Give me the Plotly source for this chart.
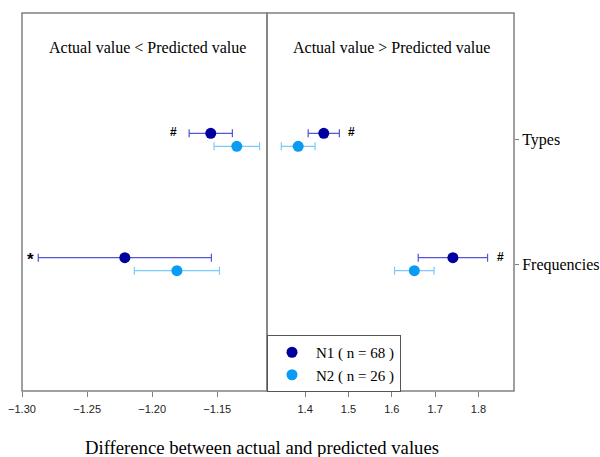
import plotly.graph_objects as go

# ---- data ----
categories = ["Frequencies", "Types"]
cat_pos = [1, 2]
n1_label = "N1 ( n = 68 )"
n2_label = "N2 ( n = 26 )"

# left panel (actual < predicted): values per category [Frequencies, Types]
n1_left_mean = [-1.221, -1.155]
n1_left_err = [0.0665, 0.0166]
n2_left_mean = [-1.181, -1.135]
n2_left_err = [0.0327, 0.0175]

# right panel (actual > predicted)
n1_right_mean = [1.741, 1.443]
n1_right_err = [0.080, 0.036]
n2_right_mean = [1.652, 1.384]
n2_right_err = [0.0456, 0.039]

# significance marks [Frequencies, Types]
n1_left_marks = ["*", "#"]
n1_right_marks = ["#", "#"]

left_ticks = [-1.30, -1.25, -1.20, -1.15]
right_ticks = [1.4, 1.5, 1.6, 1.7, 1.8]

# ---- styling ----
W, H = 600, 457
x_left, x_mid, x_right = 22, 267, 514
y_top, y_bot = 13, 391
off = 0.052
c1, c1e = "#00009E", "#5555D5"
c2, c2e = "#0A9BF5", "#7CCBFA"
serif = "Liberation Serif, Times New Roman, serif"
sans = "Liberation Sans, Arial, sans-serif"

fig = go.Figure()

def add(xs, errs, ys, col, ecol, name, xa, show):
    fig.add_trace(go.Scatter(
        x=xs, y=ys, mode="markers", name=name, xaxis=xa, yaxis="y",
        marker=dict(color=col, size=11),
        error_x=dict(type="data", array=errs, color=ecol, thickness=1.2, width=4),
        showlegend=show,
    ))

y1 = [p + off for p in cat_pos]
y2 = [p - off for p in cat_pos]
add(n1_left_mean, n1_left_err, y1, c1, c1e, n1_label, "x", True)
add(n2_left_mean, n2_left_err, y2, c2, c2e, n2_label, "x", True)
add(n1_right_mean, n1_right_err, y1, c1, c1e, n1_label, "x2", False)
add(n2_right_mean, n2_right_err, y2, c2, c2e, n2_label, "x2", False)

ann = []
for m, e, y, t in zip(n1_left_mean, n1_left_err, y1, n1_left_marks):
    ann.append(dict(x=m - e, y=y, xref="x", yref="y", text="<b>" + t + "</b>", showarrow=False,
                    xanchor="right", yanchor="middle",
                    xshift=-2 if t == "*" else -10, yshift=-2 if t == "*" else 1,
                    font=dict(family=sans, size=17 if t == "*" else 12, color="black")))
for m, e, y, t in zip(n1_right_mean, n1_right_err, y1, n1_right_marks):
    ann.append(dict(x=m + e, y=y, xref="x2", yref="y", text="<b>" + t + "</b>", showarrow=False,
                    xanchor="left", yanchor="middle", xshift=7, yshift=1,
                    font=dict(family=sans, size=12, color="black")))

ann.append(dict(x=0.514, y=1 - 47 / H, xref="x domain", yref="paper",
                xanchor="center", yanchor="middle",
                text="Actual value < Predicted value", showarrow=False,
                font=dict(family=serif, size=16, color="black")))
ann.append(dict(x=0.506, y=1 - 47 / H, xref="x2 domain", yref="paper",
                xanchor="center", yanchor="middle",
                text="Actual value > Predicted value", showarrow=False,
                font=dict(family=serif, size=16, color="black")))
ann.append(dict(x=261.5 / W, y=1 - 447 / H, xref="paper", yref="paper",
                xanchor="center", yanchor="middle",
                text="Difference between actual and predicted values", showarrow=False,
                font=dict(family=serif, size=18.7, color="black")))

frame = dict(color="#808080", width=1.5)
shapes = [
    dict(type="rect", xref="x domain", yref="y domain", x0=0, x1=1, y0=0, y1=1, line=frame),
    dict(type="rect", xref="x2 domain", yref="y domain", x0=0, x1=1, y0=0, y1=1, line=frame),
]

pdom_l = [x_left / W, x_mid / W]
pdom_r = [x_mid / W, x_right / W]
ydom = [1 - y_bot / H, 1 - y_top / H]

fig.update_layout(
    width=W, height=H,
    margin=dict(l=0, r=0, t=0, b=0, autoexpand=False),
    paper_bgcolor="white", plot_bgcolor="white",
    xaxis=dict(domain=pdom_l, range=[-1.30, -1.1118], tickvals=left_ticks,
               tickformat=".2f", ticks="outside", ticklen=5, tickcolor="#808080",
               ticklabelstandoff=3,
               showgrid=False, zeroline=False, showline=False, anchor="y", automargin=False,
               tickfont=dict(family=sans, size=11, color="#222")),
    xaxis2=dict(domain=pdom_r, range=[1.312, 1.882], tickvals=right_ticks,
                tickformat=".1f", ticks="outside", ticklen=5, tickcolor="#808080",
                ticklabelstandoff=3,
                showgrid=False, zeroline=False, showline=False, anchor="y", automargin=False,
                tickfont=dict(family=sans, size=11, color="#222")),
    yaxis=dict(domain=ydom, range=[-0.02, 3.02], tickvals=cat_pos, ticktext=categories,
               side="right", anchor="x2", ticks="outside", ticklen=4, tickcolor="#808080",
               showgrid=False, zeroline=False, showline=False, automargin=False,
               tickfont=dict(family=serif, size=16, color="black")),
    legend=dict(x=x_mid / W, y=1 - 335 / H, xanchor="left", yanchor="top",
                bordercolor="#555", borderwidth=1, bgcolor="white",
                font=dict(family=serif, size=15, color="black"),
                itemwidth=38, tracegroupgap=0),
    annotations=ann, shapes=shapes,
)

fig.write_html("out.html", config={"displayModeBar": False},
               post_script="document.body.style.margin='0';document.body.style.overflow='hidden';")
